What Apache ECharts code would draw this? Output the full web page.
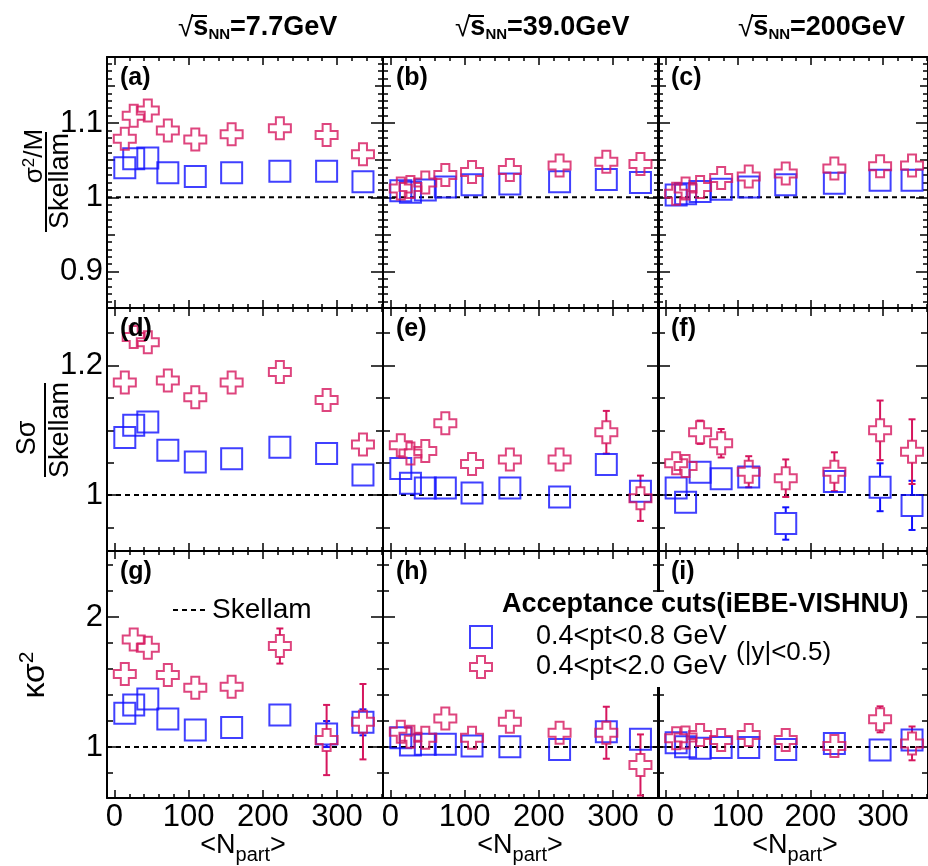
<!DOCTYPE html>
<html>
<head>
<meta charset="utf-8">
<script src="https://cdn.jsdelivr.net/npm/echarts@6/dist/echarts.min.js"></script>
<style>
  html, body { margin: 0; padding: 0; background: #fff; }
  #chart { width: 928px; height: 866px; }
</style>
</head>
<body>
<div id="chart"></div>
<script>
// Mean number of participants per centrality class, one list per beam energy
const nPart7p7 = [14, 26, 45, 72, 109, 158, 223, 286, 335];
const nPart39  = [14, 27, 47, 74, 110, 161, 228, 291, 337];
const nPart200 = [15, 28, 48, 77, 115, 166, 233, 296, 340];

// sigma^2/M divided by Skellam expectation
const aNarrow = [1.040, 1.052, 1.053, 1.033, 1.028, 1.033, 1.035, 1.035, 1.021];
const aWide   = [1.079, 1.110, 1.117, 1.090, 1.078, 1.085, 1.093, 1.084, 1.058];
const bNarrow = [1.009, 1.007, 1.010, 1.014, 1.017, 1.018, 1.021, 1.024, 1.020];
const bWide   = [1.012, 1.014, 1.020, 1.030, 1.034, 1.037, 1.043, 1.048, 1.045];
const cNarrow = [1.003, 1.005, 1.008, 1.011, 1.014, 1.017, 1.019, 1.023, 1.023];
const cWide   = [1.005, 1.012, 1.014, 1.026, 1.028, 1.032, 1.039, 1.042, 1.043];

// S*sigma divided by Skellam expectation
const dNarrow = [1.089, 1.108, 1.113, 1.069, 1.051, 1.056, 1.074, 1.064, 1.031];
const dWide   = [1.174, 1.244, 1.236, 1.177, 1.151, 1.174, 1.190, 1.147, 1.078];
const eNarrow = [1.041, 1.018, 1.011, 1.011, 1.003, 1.011, 0.997, 1.047, 1.006];
const eWide   = [1.077, 1.064, 1.068, 1.111, 1.048, 1.055, 1.055, 1.097, 0.995];
const eNarrowErr = [0, 0, 0, 0, 0, 0, 0, 0.012, 0.010];
const eWideErr   = [0, 0, 0, 0, 0, 0, 0, 0.033, 0.035];
const fNarrow = [1.011, 0.989, 1.035, 1.025, 1.028, 0.956, 1.021, 1.012, 0.984];
const fWide   = [1.049, 1.045, 1.097, 1.080, 1.036, 1.026, 1.036, 1.100, 1.067];
const fNarrowErr = [0, 0, 0.012, 0.012, 0.010, 0.025, 0.010, 0.037, 0.038];
const fWideErr   = [0.010, 0.015, 0.018, 0.022, 0.024, 0.029, 0.030, 0.046, 0.050];

// kappa*sigma^2 (Skellam expectation is 1)
const gNarrow = [1.259, 1.323, 1.369, 1.215, 1.131, 1.151, 1.246, 1.100, 1.190];
const gWide   = [1.562, 1.828, 1.764, 1.554, 1.456, 1.464, 1.777, 1.054, 1.195];
const gNarrowErr = [0, 0, 0, 0, 0, 0, 0, 0.10, 0.10];
const gWideErr   = [0, 0, 0, 0, 0, 0.06, 0.135, 0.27, 0.29];
const hNarrow = [1.072, 1.015, 1.021, 1.021, 1.008, 1.003, 0.982, 1.118, 1.059];
const hWide   = [1.118, 1.079, 1.072, 1.220, 1.072, 1.195, 1.110, 1.110, 0.862];
const hWideErr   = [0, 0, 0, 0, 0, 0, 0.08, 0.20, 0.235];
const iNarrow = [1.033, 1.003, 0.990, 0.997, 0.997, 0.982, 1.028, 0.977, 1.054];
const iWide   = [1.067, 1.074, 1.092, 1.054, 1.092, 1.054, 1.008, 1.213, 1.028];
const iWideErr   = [0, 0, 0, 0, 0, 0, 0, 0.10, 0.13];

// Axis ranges and labelled ticks
const xRange = [-10, 362];
const xTickLabels = [0, 100, 200, 300];
const yRanges = [[0.851, 1.189], [0.9135, 1.289], [0.608, 2.508]];
const yTickLabels = [[0.9, 1, 1.1], [1, 1.2], [1, 2]];
const skellamLevel = 1;

const panelTags = ['(a)', '(b)', '(c)', '(d)', '(e)', '(f)', '(g)', '(h)', '(i)'];
const energyTitles = ['=7.7GeV', '=39.0GeV', '=200GeV'];
const narrowName = '0.4<pt<0.8 GeV';
const wideName = '0.4<pt<2.0 GeV';

// ---- layout and styles ----
const FONT = '"Liberation Sans", Arial, Helvetica, sans-serif';
const BLUE = '#1010ff';
const PINK = '#d6165e';
const CROSS = 'path://M7,0H15V7H22V15H15V22H7V15H0V7H7Z';
const MARK = 22;
const colLeft = [107, 383, 658];
const colWidth = 276;
const rowTop = [57, 308, 551];
const rowHeight = [251, 243, 247];
const xTickSets = [{ step: 100, len: 8 }, { step: 20, len: 4 }];
const yTickSets = [
  [{ step: 0.1, len: 12 }, { step: 0.05, len: 8 }, { step: 0.01, len: 5 }],
  [{ step: 0.2, len: 12 }, { step: 0.05, len: 7 }],
  [{ step: 1, len: 12 }, { step: 0.2, len: 6 }]
];

const panelSeries = [
  { x: nPart7p7, narrow: aNarrow, wide: aWide },
  { x: nPart39,  narrow: bNarrow, wide: bWide },
  { x: nPart200, narrow: cNarrow, wide: cWide },
  { x: nPart7p7, narrow: dNarrow, wide: dWide },
  { x: nPart39,  narrow: eNarrow, wide: eWide, narrowErr: eNarrowErr, wideErr: eWideErr },
  { x: nPart200, narrow: fNarrow, wide: fWide, narrowErr: fNarrowErr, wideErr: fWideErr },
  { x: nPart7p7, narrow: gNarrow, wide: gWide, narrowErr: gNarrowErr, wideErr: gWideErr },
  { x: nPart39,  narrow: hNarrow, wide: hWide, wideErr: hWideErr },
  { x: nPart200, narrow: iNarrow, wide: iWide, wideErr: iWideErr }
];

function tickValues(min, max, step) {
  const out = [];
  for (let k = Math.ceil(min / step - 1e-9); k * step <= max + 1e-9; k++) {
    out.push(Math.round(k * step * 1e6) / 1e6);
  }
  return out;
}

const grids = [], xAxes = [], yAxes = [], series = [];
const mainX = [], mainY = [];

panelSeries.forEach((p, gi) => {
  const row = Math.floor(gi / 3), col = gi % 3;
  grids.push({ left: colLeft[col], top: rowTop[row], width: colWidth, height: rowHeight[row], containLabel: false });

  xTickSets.forEach((ts, k) => {
    ['bottom', 'top'].forEach(pos => {
      if (k === 0 && pos === 'bottom') mainX[gi] = xAxes.length;
      xAxes.push({
        gridIndex: gi, type: 'value', position: pos, min: xRange[0], max: xRange[1],
        axisLine: { show: k === 0, onZero: false, lineStyle: { color: '#000', width: 2 } },
        axisTick: { show: true, inside: true, length: ts.len,
          customValues: tickValues(xRange[0], xRange[1], ts.step),
          lineStyle: { color: '#000', width: 1.5 } },
        axisLabel: { show: k === 0 && pos === 'bottom' && row === 2, customValues: xTickLabels,
          color: '#000', fontSize: 31, fontFamily: FONT, margin: 4 },
        splitLine: { show: false }
      });
    });
  });

  const yr = yRanges[row];
  yTickSets[row].forEach((ts, k) => {
    ['left', 'right'].forEach(pos => {
      if (k === 0 && pos === 'left') mainY[gi] = yAxes.length;
      yAxes.push({
        gridIndex: gi, type: 'value', position: pos, min: yr[0], max: yr[1],
        axisLine: { show: k === 0, onZero: false, lineStyle: { color: '#000', width: 2 } },
        axisTick: { show: true, inside: true, length: ts.len,
          customValues: tickValues(yr[0], yr[1], ts.step),
          lineStyle: { color: '#000', width: 1.5 } },
        axisLabel: { show: k === 0 && pos === 'left' && col === 0, customValues: yTickLabels[row],
          color: '#000', fontSize: 31, fontFamily: FONT, margin: 4 },
        splitLine: { show: false }
      });
    });
  });

  const xi = mainX[gi], yi = mainY[gi];
  series.push({
    type: 'line', name: 'Skellam', xAxisIndex: xi, yAxisIndex: yi,
    data: [[xRange[0], skellamLevel], [xRange[1], skellamLevel]],
    symbol: 'none', silent: true, z: 1,
    itemStyle: { color: '#000' },
    lineStyle: { color: '#000', width: 2, type: [5, 4] }
  });

  const addErr = (vals, errs, color) => {
    if (!errs) return;
    const data = [];
    p.x.forEach((n, j) => { if (errs[j] > 0) data.push([n, vals[j], errs[j]]); });
    series.push({
      type: 'custom', xAxisIndex: xi, yAxisIndex: yi, silent: true, z: 2, data,
      renderItem: (params, api) => {
        const n = api.value(0), v = api.value(1), e = api.value(2);
        const c = api.coord([n, v]);
        const hi = api.coord([n, v + e])[1];
        const lo = api.coord([n, v - e])[1];
        const h = MARK / 2;
        const st = { stroke: color, lineWidth: 2 };
        const kids = [];
        if (hi < c[1] - h) {
          kids.push({ type: 'line', shape: { x1: c[0], y1: hi, x2: c[0], y2: c[1] - h }, style: st });
          kids.push({ type: 'line', shape: { x1: c[0] - 3.5, y1: hi, x2: c[0] + 3.5, y2: hi }, style: st });
        }
        if (lo > c[1] + h) {
          kids.push({ type: 'line', shape: { x1: c[0], y1: c[1] + h, x2: c[0], y2: lo }, style: st });
          kids.push({ type: 'line', shape: { x1: c[0] - 3.5, y1: lo, x2: c[0] + 3.5, y2: lo }, style: st });
        }
        return { type: 'group', children: kids };
      }
    });
  };
  addErr(p.narrow, p.narrowErr, BLUE);
  addErr(p.wide, p.wideErr, PINK);

  series.push({
    type: 'scatter', name: narrowName, xAxisIndex: xi, yAxisIndex: yi, z: 3,
    data: p.x.map((n, j) => [n, p.narrow[j]]),
    symbol: 'rect', symbolSize: MARK - 1,
    itemStyle: { color: 'transparent', borderColor: BLUE, borderWidth: 2 }
  });
  series.push({
    type: 'scatter', name: wideName, xAxisIndex: xi, yAxisIndex: yi, z: 4,
    data: p.x.map((n, j) => [n, p.wide[j]]),
    symbol: CROSS, symbolSize: MARK,
    itemStyle: { color: 'transparent', borderColor: PINK, borderWidth: 2 }
  });
});

// ---- text annotations ----
const graphics = [];
const txt = (x, y, text, extra, rot) => graphics.push({
  type: 'text', x, y, rotation: rot || 0, z: 100, silent: true,
  style: Object.assign({ text, fill: '#000', font: '27px ' + FONT, textAlign: 'center', textVerticalAlign: 'middle' }, extra || {})
});
const line = (x1, y1, x2, y2) => graphics.push({
  type: 'line', z: 100, silent: true, shape: { x1, y1, x2, y2 }, style: { stroke: '#000', lineWidth: 2 }
});

// white backing of the legend block (hides the frame between panels h and i)
graphics.push({
  type: 'rect', z: 50, silent: true,
  shape: { x: 462, y: 592, width: 452, height: 95 },
  style: { fill: '#fff' }
});

// panel tags
panelTags.forEach((t, gi) => {
  const row = Math.floor(gi / 3), col = gi % 3;
  txt(colLeft[col] + 13, rowTop[row] + 21, t, { font: 'bold 25px ' + FONT, textAlign: 'left' });
});

// energy headers
const titleLeft = [178, 455, 738];
energyTitles.forEach((t, c) => {
  txt(titleLeft[c], 28, '{r|\u221A}{s|s}{n|NN}{e|' + t + '}', {
    textAlign: 'left',
    rich: {
      r: { font: '28px ' + FONT },
      s: { font: 'bold 27px ' + FONT },
      n: { font: 'bold 15px ' + FONT, padding: [14, 0, 0, 0] },
      e: { font: 'bold 27px ' + FONT }
    }
  });
  line(titleLeft[c] + 13, 16, titleLeft[c] + 29, 16);
});

// x-axis titles
[243, 520, 795].forEach(cx => {
  txt(cx, 846, '{m|<N}{s|part}{m|>}', {
    rich: {
      m: { font: '27px ' + FONT },
      s: { font: '20px ' + FONT, padding: [18, 0, 0, 0] }
    }
  });
});

// y-axis titles (read bottom to top)
const UP = Math.PI / 2;
txt(35, 156, '{a|\u03C3}{p|2}{a|/M}', { rich: { a: { font: '26px ' + FONT }, p: { font: '17px ' + FONT, padding: [0, 0, 12, 0] } } }, UP);
line(46, 132, 46, 232);
txt(61, 181, 'Skellam', {}, UP);
txt(28, 438, 'S\u03C3', {}, UP);
line(45, 383, 45, 477);
txt(61, 430, 'Skellam', {}, UP);
txt(35, 675, '{a|\u03BA\u03C3}{p|2}', { rich: { a: { font: '32px ' + FONT }, p: { font: '21px ' + FONT, padding: [0, 0, 16, 0] } } }, UP);

// legend header and rapidity note
txt(502, 605, 'Acceptance cuts(iEBE-VISHNU)', { font: 'bold 27px ' + FONT, textAlign: 'left' });
txt(736, 653, '(|y|<0.5)', { font: '26px ' + FONT, textAlign: 'left' });

const option = {
  animation: false,
  backgroundColor: '#fff',
  grid: grids,
  xAxis: xAxes,
  yAxis: yAxes,
  series,
  graphic: graphics,
  legend: [
    {
      data: [
        { name: narrowName, icon: 'rect', itemStyle: { color: 'transparent', borderColor: BLUE, borderWidth: 2 } },
        { name: wideName, icon: CROSS, itemStyle: { color: 'transparent', borderColor: PINK, borderWidth: 2 } }
      ],
      orient: 'vertical', left: 469, top: 622, padding: 0, itemWidth: 22, itemHeight: 22, itemGap: 0,
      selectedMode: false, z: 60,
      textStyle: { fontSize: 27, fontFamily: FONT, color: '#000', lineHeight: 30, padding: [0, 0, 0, 39] }
    },
    {
      data: [{ name: 'Skellam', itemStyle: { opacity: 0 } }],
      left: 172, top: 596, padding: 0, itemWidth: 34, itemHeight: 14, selectedMode: false, z: 60,
      lineStyle: { color: '#000', width: 2, type: [5, 4] },
      textStyle: { fontSize: 28, fontFamily: FONT, color: '#000' }
    }
  ]
};

const chart = echarts.init(document.getElementById('chart'), null, { renderer: 'canvas' });
chart.setOption(option);
</script>
</body>
</html>
